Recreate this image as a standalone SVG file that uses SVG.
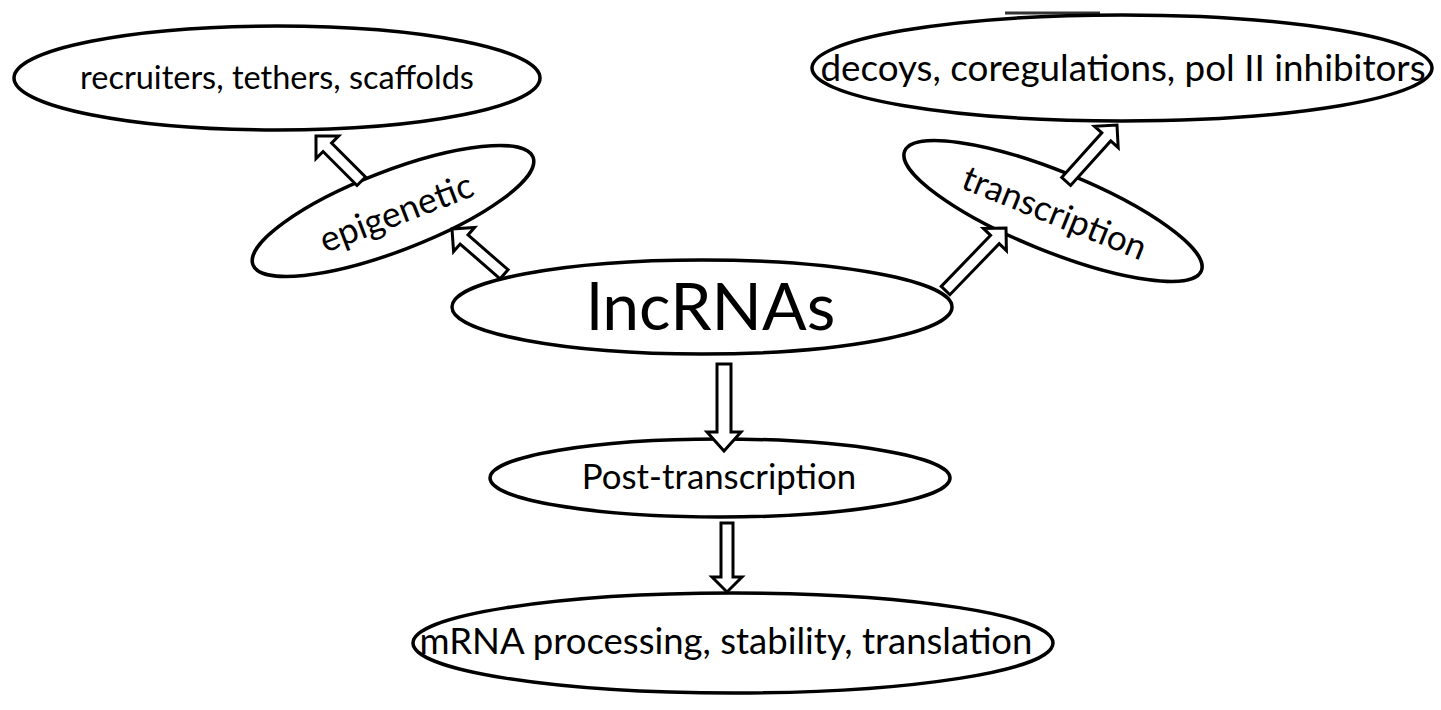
<svg xmlns="http://www.w3.org/2000/svg" width="1441" height="710" viewBox="0 0 1441 710">
<style>
.node{fill:#fff;stroke:#000;stroke-width:3.5}
.lbl{font-family:Lato,"Open Sans","Liberation Sans",sans-serif;fill:#000;text-anchor:middle}
.arr{fill:#fff;stroke:#000;stroke-width:3;stroke-linejoin:miter}
</style>
<rect width="1441" height="710" fill="#fff"/>
<g id="recruiters">
<ellipse class="node" cx="277" cy="78" rx="263" ry="52"/>
<text class="lbl" x="277" y="89" font-size="32.5">recruiters, tethers, scaffolds</text>
</g>
<g id="decoys">
<line x1="1005" y1="13" x2="1100" y2="13" stroke="#333" stroke-width="3"/>
<ellipse class="node" cx="1122" cy="68" rx="310" ry="53"/>
<text class="lbl" x="1123" y="81" font-size="36.8">decoys, coregulations, pol II inhibitors</text>
</g>
<g id="epigenetic">
<ellipse class="node" cx="393" cy="211" rx="150" ry="40" transform="rotate(-21 393 211)"/>
<text class="lbl" x="396" y="225" font-size="35.5" transform="rotate(-21 396 212)">epigenetic</text>
</g>
<g id="transcription">
<ellipse class="node" cx="1053" cy="211" rx="160" ry="40" transform="rotate(22 1053 211)"/>
<text class="lbl" x="1055" y="225" font-size="35" transform="rotate(22 1055 212)">transcription</text>
</g>
<g id="lncRNAs">
<ellipse class="node" cx="702" cy="307" rx="250" ry="47"/>
<text class="lbl" x="711" y="330" font-size="66">lncRNAs</text>
</g>
<g id="post-transcription">
<ellipse class="node" cx="720" cy="478" rx="230" ry="39"/>
<text class="lbl" x="719" y="489" font-size="34.8">Post-transcription</text>
</g>
<g id="mrna">
<ellipse class="node" cx="733" cy="643" rx="320" ry="50"/>
<text class="lbl" x="726" y="654" font-size="36.5">mRNA processing, stability, translation</text>
</g>
<g id="connectors">
<path class="arr" d="M-87,-7 L-19,-7 L-19,-17 L0,0 L-19,17 L-19,7 L-87,7 Z" transform="translate(724 451) rotate(90)"/>
<path class="arr" d="M-69,-6 L-15,-6 L-15,-15 L0,0 L-15,15 L-15,6 L-69,6 Z" transform="translate(727 592) rotate(90)"/>
<path class="arr" d="M-69,-6 L-16,-6 L-16,-16 L0,0 L-16,16 L-16,6 L-69,6 Z" transform="translate(452 229) rotate(-139)"/>
<path class="arr" d="M-64,-6 L-16,-6 L-16,-16 L0,0 L-16,16 L-16,6 L-64,6 Z" transform="translate(316 136) rotate(-135)"/>
<path class="arr" d="M-87,-6 L-16,-6 L-16,-16 L0,0 L-16,16 L-16,6 L-87,6 Z" transform="translate(1006 228) rotate(-46)"/>
<path class="arr" d="M-76,-6 L-16,-6 L-16,-16 L0,0 L-16,16 L-16,6 L-76,6 Z" transform="translate(1117 125) rotate(-48)"/>
</g>
</svg>
